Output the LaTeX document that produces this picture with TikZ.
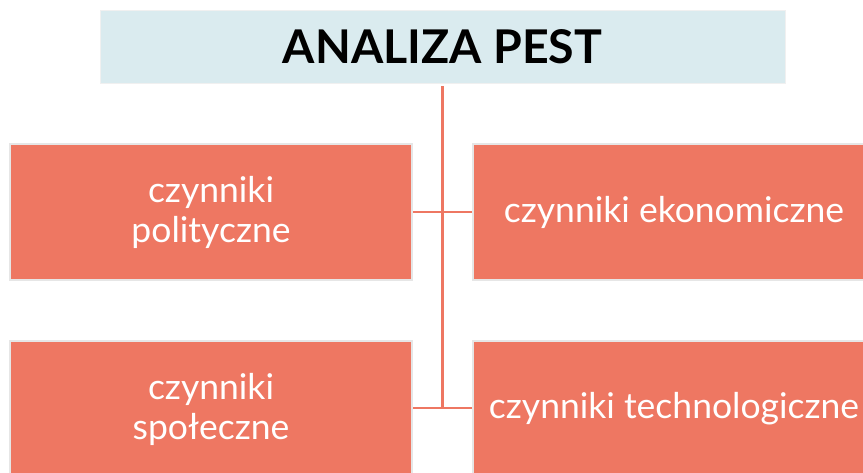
\documentclass[tikz,border=0pt]{standalone}
\usepackage{fontspec}
\setmainfont{Lato}
\definecolor{boxred}{HTML}{EE7762}
\definecolor{titlebg}{HTML}{DAEBEF}
\definecolor{edgegray}{HTML}{E6E6E6}
\begin{document}
\begin{tikzpicture}[x=1pt,y=-1pt,
  factor/.style={rectangle, fill=boxred, draw=edgegray, line width=2pt,
    minimum width=402pt, minimum height=136pt, inner sep=0pt,
    text=white, align=center, font=\fontsize{35.5}{40}\selectfont},
  titlebox/.style={rectangle, fill=titlebg, draw=edgegray!60, line width=1pt,
    minimum width=685pt, minimum height=73pt, inner sep=0pt,
    font=\fontsize{46.5}{50}\selectfont\bfseries},
  conn/.style={draw=boxred, line width=2.5pt}]
\useasboundingbox (0,0) rectangle (863,472);
\node[titlebox] (title) at (442.5,46.5) {ANALIZA PEST};
\node[factor] (pol) at (211,212) {czynniki\\polityczne};
\node[factor] (eko) at (674,212) {czynniki ekonomiczne};
\node[factor] (spo) at (211,409) {czynniki\\społeczne};
\node[factor] (tech) at (674,409) {czynniki technologiczne};
\coordinate (top) at (442.5,86);
\coordinate (bot) at (442.5,408);
\draw[conn] (top) -- (bot);
\draw[conn] (pol.east |- 0,212) -- (eko.west |- 0,212);
\draw[conn] (spo.east |- 0,408) -- (tech.west |- 0,408);
\end{tikzpicture}
\end{document}
